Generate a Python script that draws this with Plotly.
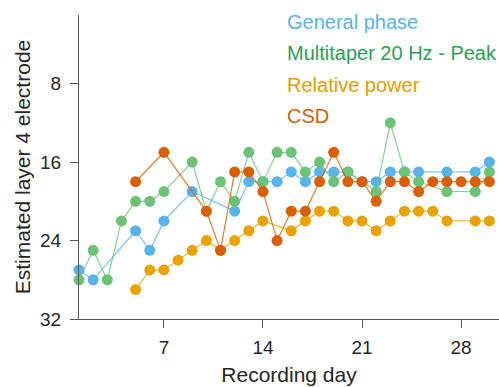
import plotly.graph_objects as go

days = list(range(1, 31))
N = None
general_phase = [27, 28, N, N, 23, 25, 22, N, 19, N, N, 21, 18, 18, 18, 17, 18, 17, 17, 17,
                 18, 18, 17, 17, 17, N, 17, N, 17, 16]
multitaper = [28, 25, 28, 22, 20, 20, 19, N, 16, 21, 18, 20, 15, 18, 15, 15, 17, 16, 18, 17,
              18, 19, 12, 17, 18, N, 19, N, 19, 17]
relative_power = [N, N, N, N, 29, 27, 27, 26, 25, 24, 25, 24, 23, 22, N, 23, 22, 21, 21, 22,
                  22, 23, 22, 21, 21, 21, 22, N, 22, 22]
csd = [N, N, N, N, 18, N, 15, N, N, 21, 25, 17, 17, 19, 24, 21, 21, 18, 15, 18,
       18, 20, 18, 18, 19, 18, 18, 18, 18, 18]

series = [
    ("General phase", general_phase, "#56B4E9", "rgba(86,180,233,0.8)", "#56B4E9"),
    ("Multitaper 20 Hz - Peak", multitaper, "#6CC378", "rgba(108,195,120,0.8)", "#2E9E58"),
    ("Relative power", relative_power, "#E9A200", "rgba(233,162,0,0.8)", "#E0A000"),
    ("CSD", csd, "#D95F02", "rgba(217,95,2,0.8)", "#D0600A"),
]

FONT = "Liberation Sans, Arial, sans-serif"

fig = go.Figure()
for name, vals, mc, lc, tc in series:
    fig.add_trace(go.Scatter(
        x=days, y=vals, mode="lines+markers", name=name,
        connectgaps=True, cliponaxis=False,
        line=dict(color=lc, width=1.2),
        marker=dict(color=mc, size=11, line=dict(width=0)),
        showlegend=False,
    ))

legend_y = [1.7, 4.9, 8.1, 11.3]
for (name, vals, mc, lc, tc), ly in zip(series, legend_y):
    fig.add_annotation(x=0.49, xref="paper", y=ly, yref="y", text=name,
                       showarrow=False, xanchor="left", yanchor="middle",
                       font=dict(size=20, color=tc, family=FONT))

axis_common = dict(
    showline=True, linecolor="#555555", linewidth=1,
    ticks="outside", ticklen=8, tickcolor="#555555", tickwidth=1,
    showgrid=False, zeroline=False,
    tickfont=dict(size=19, color="#262626", family=FONT),
)

fig.update_layout(
    width=499, height=387,
    margin=dict(l=79, r=0, t=15, b=68),
    paper_bgcolor="white", plot_bgcolor="white",
    xaxis=dict(range=[1, 30.68], tickvals=[7, 14, 21, 28],
               title=dict(text="Recording day", standoff=10,
                          font=dict(size=21, color="#262626", family=FONT)),
               ticklabelstandoff=3,
               **axis_common),
    yaxis=dict(range=[32, 1], tickvals=[8, 16, 24, 32],
               title=dict(text="Estimated layer 4 electrode", standoff=3,
                          font=dict(size=21, color="#262626", family=FONT)),
               ticklabelstandoff=5,
               **axis_common),
)
fig.update_xaxes(automargin=False)
fig.update_yaxes(automargin=False)

fig.write_html("out.html")
